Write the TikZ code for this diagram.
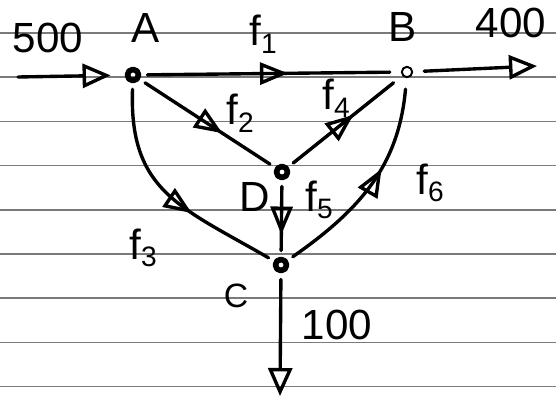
\documentclass[tikz,border=0pt]{standalone}
\usepackage{fontspec}
\setmainfont{Liberation Sans}
\usetikzlibrary{arrows.meta,decorations.markings}
\definecolor{ruling}{HTML}{7A7A7A}
\newcommand{\FlowName}[1]{f\raisebox{-0.18em}{\fontsize{20}{20}\selectfont #1}}

\begin{document}
\begin{tikzpicture}[x=0.025cm,y=0.025cm,
 font=\fontsize{30}{32}\selectfont,line cap=round,line join=round,
 paper/.style={ruling,line width=1.1pt},
 junction/.style={circle,draw,inner sep=0pt,minimum size=0.28cm,
   line width=4pt,outer sep=0.22cm},
 tap/.style={circle,draw,inner sep=0pt,minimum size=0.26cm,
   line width=1.4pt,outer sep=0.3cm},
 flow/.style={line width=2.4pt},
 endtip/.style={-{Triangle[open,length=7mm,width=6mm]}},
 midtip/.style={postaction={decorate},decoration={markings,
   mark=at position #1 with {\arrow{Triangle[open,length=7mm,width=5.5mm]}}}},
 midtip/.default=0.5]

\useasboundingbox (0,0) rectangle (556,-398);
% ruled notebook paper
\foreach \row in {0,...,8}
  \draw[paper] (0,{-33-44.2*\row}) -- (556,{-33-44.2*\row});

\node[junction] (A) at (133,-75) {};
\node[tap] (B) at (407,-72) {};
\node[junction] (D) at (282,-172) {};
\node[junction] (C) at (281,-265) {};
\coordinate (source) at (18,-77);
\coordinate (target) at (537,-66);
\coordinate (sink) at (280,-396);

\draw[flow,endtip,shorten >=0.2cm] (source) -- (A);
\draw[flow,midtip=0.58] (A) -- (B);
\draw[flow,endtip] (B) -- (target);
\draw[flow,midtip=0.62] (A) -- (D);
\draw[flow,midtip=0.6] (D) -- (B);
\draw[flow,midtip=0.62] (A) to[out=-92,in=150,looseness=1.2] (C);
\draw[flow,midtip=0.75] (D) -- (C);
\draw[flow,midtip=0.6] (C) to[out=35,in=-95] (B);
\draw[flow,endtip] (C) -- (sink);

\node (lblSrc) at (48,-38) {500};
\node (lblA) at (146,-28) {A};
\node (lblF1) at (263,-34) {\FlowName{1}};
\node (lblB) at (403,-27) {B};
\node (lblOut) at (511,-23) {400};
\node (lblF2) at (240,-113) {\FlowName{2}};
\node (lblF4) at (336,-98) {\FlowName{4}};
\node (lblF3) at (143,-248) {\FlowName{3}};
\node (lblD) at (255,-197) {D};
\node (lblF5) at (319,-200) {\FlowName{5}};
\node (lblF6) at (430,-183) {\FlowName{6}};
\node[font=\fontsize{24}{26}\selectfont] (lblC) at (236,-296) {C};
\node (lblSink) at (337,-325) {100};
\end{tikzpicture}
\end{document}
